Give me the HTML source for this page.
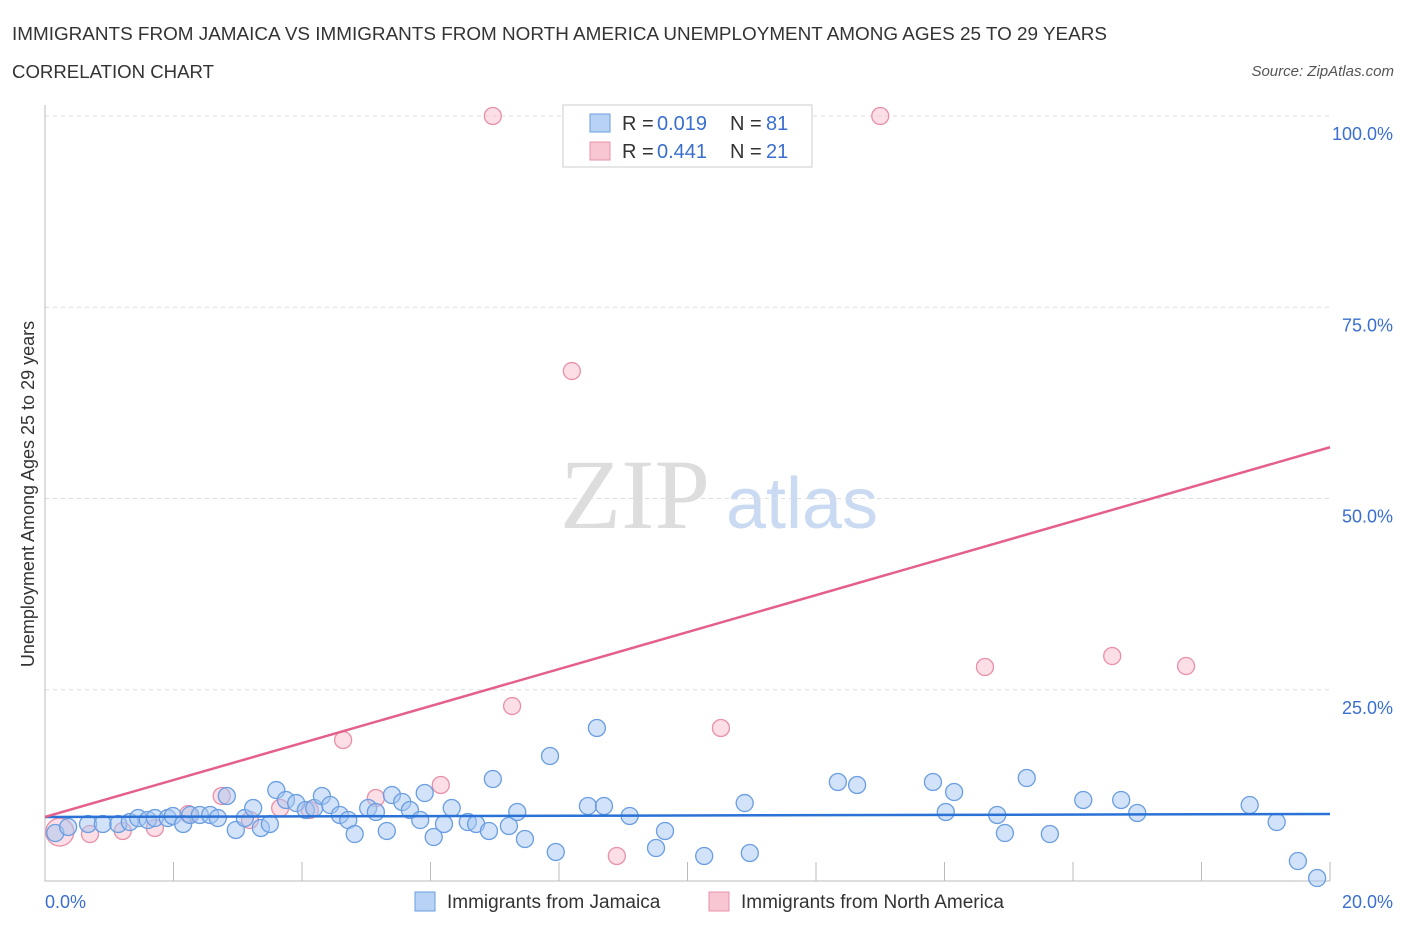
<!DOCTYPE html>
<html><head><meta charset="utf-8"><style>
body{margin:0;background:#fff;font-family:"Liberation Sans",sans-serif}
</style></head><body>
<svg width="1406" height="930" xmlns="http://www.w3.org/2000/svg" font-family="Liberation Sans, sans-serif">
<text x="12" y="40" font-size="18" fill="#333" textLength="1095" lengthAdjust="spacingAndGlyphs">IMMIGRANTS FROM JAMAICA VS IMMIGRANTS FROM NORTH AMERICA UNEMPLOYMENT AMONG AGES 25 TO 29 YEARS</text>
<text x="12" y="78" font-size="18" fill="#333" textLength="202" lengthAdjust="spacingAndGlyphs">CORRELATION CHART</text>
<text x="1394" y="76" font-size="15" fill="#555" font-style="italic" text-anchor="end">Source: ZipAtlas.com</text>
<text x="635" y="528" font-size="100" fill="#ddd" font-family="Liberation Serif, serif" text-anchor="middle">ZIP</text>
<text x="802" y="528" font-size="72" fill="#c9daf2" text-anchor="middle">atlas</text>
<g id="grid"></g>
<g id="axes"></g>
<g id="marks"></g>
<text transform="translate(34,494) rotate(-90)" font-size="18" fill="#333" text-anchor="middle">Unemployment Among Ages 25 to 29 years</text>
<text x="45" y="908" font-size="18" fill="#3a6fd0">0.0%</text>
<text x="1393" y="908" font-size="18" fill="#3a6fd0" text-anchor="end">20.0%</text>
<g>
<rect x="563" y="105" width="249" height="62" fill="#fff" stroke="#ccc"/>
<rect x="590" y="114" width="20" height="18" fill="#b8d2f5" stroke="#6a9ee0"/>
<rect x="590" y="142" width="20" height="18" fill="#f8c6d3" stroke="#e890a8"/>
<text x="622" y="130" font-size="20" fill="#333">R =</text>
<text x="657" y="130" font-size="20" fill="#3a6fd0">0.019</text>
<text x="730" y="130" font-size="20" fill="#333">N =</text>
<text x="766" y="130" font-size="20" fill="#3a6fd0">81</text>
<text x="622" y="158" font-size="20" fill="#333">R =</text>
<text x="657" y="158" font-size="20" fill="#3a6fd0">0.441</text>
<text x="730" y="158" font-size="20" fill="#333">N =</text>
<text x="766" y="158" font-size="20" fill="#3a6fd0">21</text>
</g>
<g>
<rect x="415" y="892" width="20" height="19" fill="#b8d2f5" stroke="#6a9ee0"/>
<text x="447" y="908" font-size="19" fill="#333">Immigrants from Jamaica</text>
<rect x="709" y="892" width="20" height="19" fill="#f8c6d3" stroke="#e890a8"/>
<text x="741" y="908" font-size="19" fill="#333">Immigrants from North America</text>
</g>
</svg>
<script>
const yTicks=[25,50,75,100];
const yTickLabels=["25.0%","50.0%","75.0%","100.0%"];
const xTicks=[0,2,4,6,8,10,12,14,16,18,20];
const blueX=[0.16,0.36,0.67,0.90,1.14,1.32,1.45,1.60,1.71,1.91,1.99,2.15,2.26,2.41,2.57,2.69,2.83,2.97,3.11,3.24,3.36,3.50,3.60,3.75,3.91,4.06,4.19,4.31,4.44,4.59,4.72,4.82,5.03,5.15,5.32,5.40,5.56,5.68,5.84,5.91,6.05,6.21,6.33,6.58,6.71,6.91,6.97,7.22,7.35,7.47,7.86,7.95,8.45,8.59,8.70,9.10,9.51,9.65,10.26,10.89,10.97,12.34,12.64,13.82,14.02,14.15,14.82,14.94,15.28,15.64,16.16,16.75,17.00,18.75,19.17,19.50,19.80];
const blueY=[6.27,7.06,7.45,7.45,7.45,7.71,8.23,7.97,8.23,8.23,8.50,7.45,8.63,8.63,8.63,8.23,11.11,6.67,8.23,9.54,6.93,7.45,11.89,10.59,10.19,9.28,9.54,11.11,9.93,8.63,7.97,6.14,9.54,9.02,6.54,11.24,10.33,9.28,7.97,11.50,5.75,7.45,9.54,7.71,7.45,6.54,13.33,7.19,9.02,5.49,16.34,3.79,9.80,20.0,9.80,8.50,4.31,6.54,3.27,10.19,3.66,12.94,12.55,12.94,9.02,11.63,8.63,6.27,13.46,6.14,10.59,10.59,8.89,9.93,7.71,2.61,0.39];
const pinkX=[6.97,13.0,8.20,7.27,4.64,10.52,14.63,16.61,17.76,6.16,5.15,2.75,3.66,2.23,1.71,1.21,0.70,0.23,8.90,3.19,4.12];
const pinkY=[100,100,66.66,22.87,18.43,20.0,27.97,29.41,28.10,12.55,10.85,11.11,9.54,8.76,6.93,6.54,6.14,6.40,3.27,7.97,9.28];
const blueLine=[8.37,8.76];
const pinkLine=[8.37,56.7];
const NS="http://www.w3.org/2000/svg";
const X=v=>45+v/20*1285, Y=v=>881-v/100*765;
function mk(t,a,p){const e=document.createElementNS(NS,t);for(const k in a)e.setAttribute(k,a[k]);p.appendChild(e);return e;}
const grid=document.getElementById('grid'),axes=document.getElementById('axes'),marks=document.getElementById('marks');
yTicks.forEach((t,i)=>{
 const l=mk('line',{x1:45,x2:1330,y1:Y(t),y2:Y(t),stroke:'#ddd','stroke-dasharray':'4 4'},grid);
 
 
 const tx=mk('text',{x:1393,y:Y(t)+24,'font-size':18,fill:'#3a6fd0','text-anchor':'end'},grid);
 tx.textContent=yTickLabels[i];
 
 
});
const ax=mk('path',{d:'M45 105V881H1330',fill:'none',stroke:'#bbb'},axes);


xTicks.forEach(t=>{
 const l=mk('line',{x1:X(t),x2:X(t),y1:862,y2:881,stroke:'#bbb'},axes);
 
 
});
function dots(xs,ys,fill,stroke,name){
 xs.forEach((x,i)=>{
  const c=mk('circle',{cx:X(x),cy:Y(ys[i]),r:(name=='pink-point'&&i==17)?14:8.5,fill:fill,stroke:stroke,'stroke-width':1.3},marks);
  
  
 });
}
dots(pinkX,pinkY,'rgba(248,190,205,0.5)','#e890a8','pink-point');
dots(blueX,blueY,'rgba(165,198,242,0.5)','#6a9ee0','blue-point');
const bl=mk('line',{x1:X(0),x2:X(20),y1:Y(blueLine[0]),y2:Y(blueLine[1]),stroke:'#2a72d6','stroke-width':2.5},marks);


const pl=mk('line',{x1:X(0),x2:X(20),y1:Y(pinkLine[0]),y2:Y(pinkLine[1]),stroke:'#e4608a','stroke-width':2.5},marks);


</script>
</body></html>
